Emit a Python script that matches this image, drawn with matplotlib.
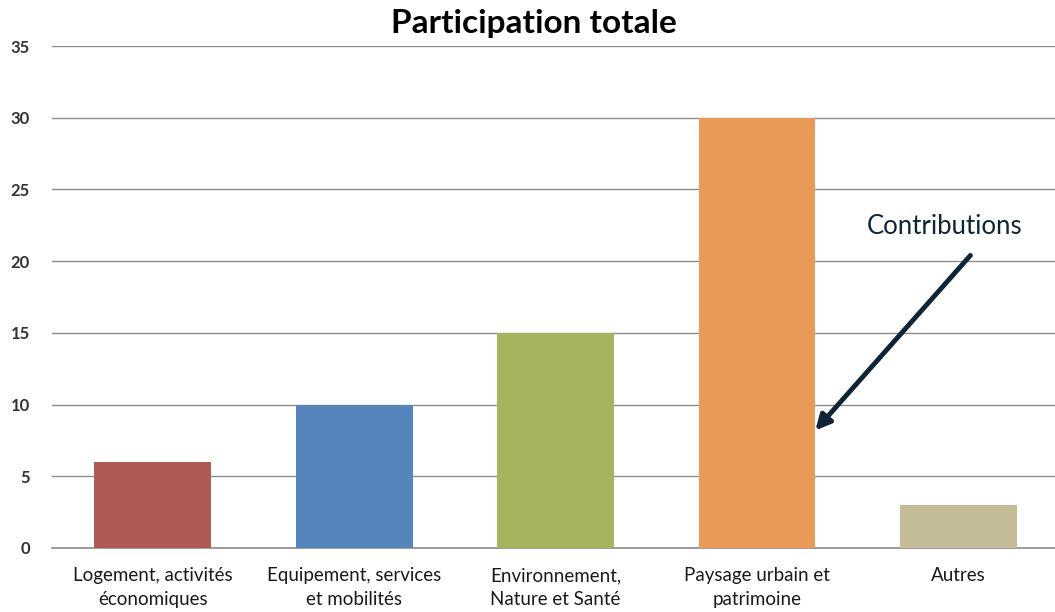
import matplotlib.pyplot as plt

plt.rcParams['font.family'] = ['Lato', 'DejaVu Sans']

# Données
categories = ['Logement, activités\néconomiques',
              'Equipement, services\net mobilités',
              'Environnement,\nNature et Santé',
              'Paysage urbain et\npatrimoine',
              'Autres']
valeurs = [6, 10, 15, 30, 3]
couleurs = ['#AF5A53', '#5684BD', '#A5B55D', '#E99A56', '#C4BC97']
yticks = [0, 5, 10, 15, 20, 25, 30, 35]

fig = plt.figure(figsize=(10.55, 6.12), dpi=100)
ax = fig.add_axes([0.0493, 0.1046, 0.9545, 0.8202])

x = range(len(categories))
ax.bar(x, valeurs, width=0.58, color=couleurs, zorder=3)

ax.set_xlim(-0.5, len(categories) - 0.5)
ax.set_ylim(0, 35)
ax.set_yticks(yticks)
ax.set_xticks(list(x))
ax.set_xticklabels(categories, fontsize=13.5, linespacing=1.45)
ax.tick_params(axis='both', length=0, colors='#1a1a1a')
ax.tick_params(axis='y', labelsize=12, pad=16)
ax.tick_params(axis='x', pad=14)
for lab in ax.get_yticklabels():
    lab.set_fontweight('bold')
    lab.set_color('#333333')

ax.grid(axis='y', color='#8c8c8c', linewidth=1, zorder=0)
for s in ['top', 'right', 'left']:
    ax.spines[s].set_visible(False)
ax.spines['bottom'].set_color('#8c8c8c')
ax.spines['bottom'].set_linewidth(1.2)

fig.text(0.506, 0.962, 'Participation totale', ha='center', va='center',
         fontsize=24, fontweight='bold', color='black')

# Flèche
ax.annotate('', xy=(3.29, 8.2), xytext=(4.06, 20.4),
            arrowprops=dict(arrowstyle='-|>', color='#0F2436', lw=3.5,
                            mutation_scale=22, shrinkA=0, shrinkB=0),
            zorder=5)
ax.text(3.93, 22.4, 'Contributions', ha='center', va='center',
        fontsize=18.5, color='#0F2436', zorder=5)

fig.savefig('out.png', dpi=100)
